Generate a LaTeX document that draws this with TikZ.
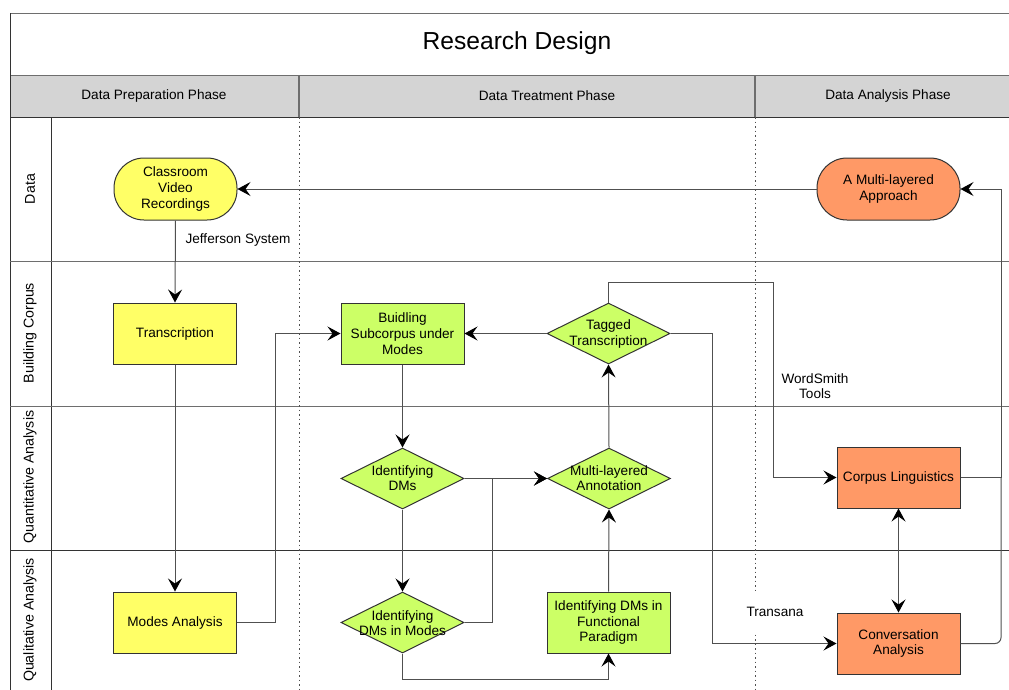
\documentclass[tikz,border=0pt]{standalone}
\usepackage{fontspec}
\setmainfont{Liberation Sans}
\usetikzlibrary{shapes.geometric,arrows.meta}
\definecolor{cyel}{HTML}{FFFF66}
\definecolor{cgrn}{HTML}{CCFF66}
\definecolor{corg}{HTML}{FF9966}
\definecolor{chead}{HTML}{D4D4D4}
\definecolor{cline}{HTML}{333333}
\definecolor{cconn}{HTML}{505050}
\definecolor{clane}{HTML}{6E6E6E}
\begin{document}
\begin{tikzpicture}[x=1pt,y=-1pt,
  txt/.style={font=\fontsize{13.6}{15.7}\selectfont, align=center, inner sep=1pt},
  box/.style={txt, draw=cline, line width=1pt, minimum width=123pt, minimum height=61pt, inner sep=0pt},
  ybox/.style={box, fill=cyel},
  gbox/.style={box, fill=cgrn},
  obox/.style={box, fill=corg},
  stad/.style={box, rounded corners=30pt, minimum height=62pt},
  dia/.style={draw=cline, line width=1pt, diamond, fill=cgrn, minimum width=123pt, minimum height=61pt, inner sep=0pt},
  conn/.style={draw=cconn, line width=1pt},
  arr/.style={conn, -{Stealth[length=13pt,width=14pt,inset=5pt,color=black]}},
  darr/.style={conn, {Stealth[length=13pt,width=14pt,inset=5pt,color=black]}-{Stealth[length=13pt,width=14pt,inset=5pt,color=black]}},
  lanelbl/.style={font=\fontsize{14.2}{16}\selectfont, rotate=90},
  lanel/.style={draw=clane, line width=1pt},
  dotl/.style={draw=cconn, line width=1pt, dash pattern=on 1.5pt off 3pt},
]
\useasboundingbox (0,0) rectangle (1009,689);
\clip (0,0) rectangle (1009,689);
% frame and header
\fill[chead] (10,75) rectangle (1015,117);
\draw[lanel] (10,13) -- (1015,13);
\draw[lanel] (10,75) -- (1015,75);
\draw[draw=cline, line width=1pt] (10,117) -- (1015,117);
\draw[draw=cline, line width=1pt] (10,13) -- (10,695);
\draw[draw=clane, line width=1.5pt] (299,75) -- (299,117);
\draw[draw=clane, line width=1.5pt] (755,75) -- (755,117);
\draw[draw=cline, line width=1pt] (51,117) -- (51,695);
\draw[lanel] (10,261) -- (1015,261);
\draw[lanel] (10,406) -- (1015,406);
\draw[draw=cline, line width=1pt] (10,550) -- (1015,550);
\draw[dotl] (299,117) -- (299,695);
\draw[dotl] (755,117) -- (755,695);
\node[font=\fontsize{24.6}{28}\selectfont] (title) at (517,43) {Research Design};
\node[txt] (h1) at (154,96) {Data Preparation Phase};
\node[txt] (h2) at (547,96) {Data Treatment Phase};
\node[txt] (h3) at (888,96) {Data Analysis Phase};
\node[lanelbl] (l1) at (30,189) {Data};
\node[lanelbl] (l2) at (30,333) {Building Corpus};
\node[lanelbl] (l3) at (30,477) {Quantitative Analysis};
\node[lanelbl] (l4) at (30,620) {Qualitative Analysis};
% nodes
\node[stad, fill=cyel] (cvr) at (175.5,189) {Classroom\\Video\\Recordings};
\node[stad, fill=corg, minimum width=143pt] (appr) at (888.5,189) {A Multi-layered\\Approach};
\node[ybox] (trans) at (175,333.5) {Transcription};
\node[ybox] (modes) at (175,622.5) {Modes Analysis};
\node[gbox] (sub) at (402.5,333.5) {Buidling\\Subcorpus under\\Modes};
\node[dia] (tag) at (608.5,333.5) {};
\node[txt] (tagt) at (608.5,334) {Tagged\\Transcription};
\node[dia] (idm) at (402.5,478.5) {};
\node[txt] (idmt) at (402.5,478) {Identifying\\DMs};
\node[dia] (ann) at (609,478.5) {};
\node[txt] (annt) at (609,478) {Multi-layered\\Annotation};
\node[dia] (idmm) at (402.5,622.5) {};
\node[txt] (idmmt) at (402.5,623) {Identifying\\DMs in Modes};
\node[gbox] (func) at (608.5,622.5) {Identifying DMs in\\Functional\\Paradigm};
\node[obox] (corp) at (898.5,477.5) {Corpus Linguistics};
\node[obox] (conv) at (898.5,643.5) {Conversation\\Analysis};
% coordinates
\coordinate (c1) at (773,282);
\coordinate (c2) at (712,333.5);
\coordinate (c3) at (1001,189);
\coordinate (c4) at (1001,478);
\coordinate (c5) at (275,622.5);
\coordinate (c6) at (492,622.5);
\coordinate (c7) at (402.5,679);
% connectors
\draw[arr] (appr.west) -- (cvr.east);
\draw[arr] (cvr.south) -- (trans.north);
\node[txt, fill=white] (jeff) at (238,240) {Jefferson System};
\draw[arr] (trans.south) -- (modes.north);
\draw[arr] (modes.east) -- (c5) |- (sub.west);
\draw[arr] (tag.west) -- (sub.east);
\draw[arr] (sub.south) -- (idm.north);
\draw[arr] (idm.south) -- (idmm.north);
\draw[arr] (idm.east) -- (ann.west);
\draw[arr] (idmm.east) -- (c6) |- (ann.west);
\draw[arr] (idmm.south) -- (c7) -| (func.south);
\draw[arr] (func.north) -- (ann.south);
\draw[arr] (ann.north) -- (tag.south);
\draw[arr] (tag.north) |- (c1) |- (corp.west);
\draw[arr] (tag.east) -- (c2) |- (conv.west);
\draw[darr] (corp.south) -- (conv.north);
\draw[arr] (corp.east) -| (c3) -- (appr.east);
\draw[conn, rounded corners=6pt] (conv.east) -| (c4);
\node[txt] (ws) at (815,386) {WordSmith\\Tools};
\node[txt, fill=white, minimum width=84pt, minimum height=41pt] (tra) at (775,612) {Transana};
\end{tikzpicture}
\end{document}
